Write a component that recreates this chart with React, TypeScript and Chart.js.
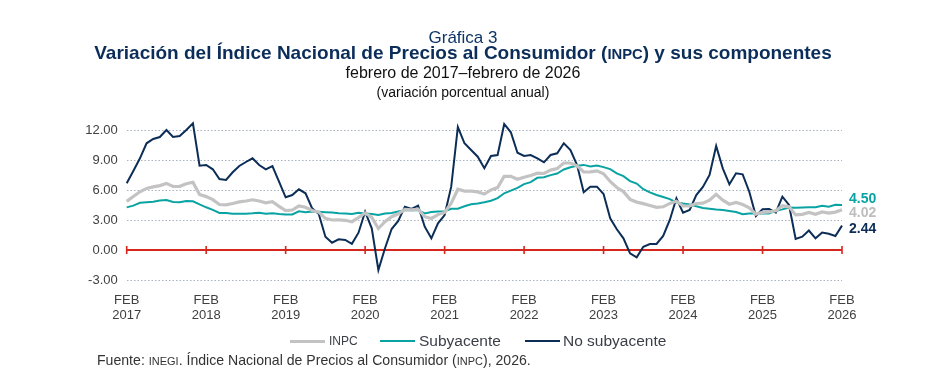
import React, { useEffect, useRef } from 'react';
import { Chart, registerables } from 'chart.js';

Chart.register(...registerables);

// Feb 2017 ... Feb 2026 (109 months)
const startYear = 2017;
const startMonth = 1; // 0 = Jan, 1 = Feb

const tickYears = ['2017', '2018', '2019', '2020', '2021', '2022', '2023', '2024', '2025', '2026'];
const tickMonthLabel = 'FEB';
const yTicks = [-3, 0, 3, 6, 9, 12];

const inpc = [
  4.86, 5.35, 5.82, 6.16, 6.31, 6.44, 6.66, 6.35, 6.37, 6.63, 6.77,
  5.55, 5.34, 5.04, 4.55, 4.51, 4.65, 4.81, 4.90, 5.02, 4.90, 4.72, 4.83,
  4.37, 3.94, 4.00, 4.41, 4.28, 3.95, 3.78, 3.16, 3.00, 3.02, 2.97, 2.83,
  3.24, 3.70, 3.25, 2.15, 2.84, 3.33, 3.62, 4.05, 4.01, 4.09, 3.33, 3.15,
  3.54, 3.76, 4.67, 6.08, 5.89, 5.88, 5.81, 5.59, 6.00, 6.24, 7.37, 7.36,
  7.07, 7.28, 7.45, 7.68, 7.65, 7.99, 8.15, 8.70, 8.70, 8.41, 7.80, 7.82,
  7.91, 7.62, 6.85, 6.25, 5.84, 5.06, 4.79, 4.64, 4.45, 4.26, 4.32, 4.66,
  4.88, 4.40, 4.42, 4.65, 4.69, 4.98, 5.57, 4.99, 4.58, 4.76, 4.55, 4.21,
  3.59, 3.77, 3.80, 3.93, 4.42, 4.32, 3.51, 3.57, 3.76, 3.57, 3.80, 3.69,
  3.79, 4.02,
];

const subyacente = [
  4.26, 4.44, 4.72, 4.78, 4.83, 4.94, 5.00, 4.80, 4.77, 4.90, 4.87,
  4.56, 4.27, 4.02, 3.71, 3.69, 3.62, 3.63, 3.63, 3.67, 3.73, 3.63, 3.68,
  3.60, 3.54, 3.55, 3.87, 3.77, 3.85, 3.82, 3.78, 3.75, 3.68, 3.65, 3.59,
  3.73, 3.66, 3.60, 3.50, 3.64, 3.71, 3.85, 3.97, 3.99, 3.98, 3.66, 3.80,
  3.84, 3.87, 4.12, 4.13, 4.37, 4.58, 4.66, 4.78, 4.92, 5.19, 5.67, 5.94,
  6.21, 6.59, 6.78, 7.22, 7.28, 7.49, 7.65, 8.05, 8.28, 8.42, 8.51, 8.35,
  8.45, 8.29, 8.09, 7.67, 7.39, 6.89, 6.64, 6.08, 5.76, 5.50, 5.30, 5.09,
  4.76, 4.64, 4.55, 4.37, 4.21, 4.13, 4.05, 4.00, 3.91, 3.80, 3.58, 3.65,
  3.66, 3.65, 3.64, 3.93, 4.06, 4.24, 4.23, 4.26, 4.28, 4.28, 4.43, 4.33,
  4.52, 4.50,
];

const noSubyacente = [
  6.67, 7.90, 9.17, 10.67, 11.10, 11.30, 12.00, 11.30, 11.40, 12.00, 12.67,
  8.43, 8.50, 8.07, 7.10, 7.00, 7.77, 8.40, 8.80, 9.17, 8.50, 8.07, 8.40,
  6.83, 5.27, 5.50, 6.07, 5.67, 4.17, 3.60, 1.33, 0.73, 1.07, 1.00, 0.62,
  1.73, 3.83, 2.17, -2.00, 0.17, 2.10, 2.90, 4.33, 4.10, 4.43, 2.33, 1.17,
  2.67, 3.50, 6.33, 12.30, 10.67, 10.00, 9.33, 8.17, 9.40, 9.50, 12.60, 11.77,
  9.73, 9.40, 9.50, 9.17, 8.77, 9.50, 9.67, 10.67, 10.00, 8.50, 5.77, 6.33,
  6.33, 5.60, 3.17, 2.07, 1.17, -0.33, -0.73, 0.33, 0.60, 0.60, 1.40, 3.00,
  5.17, 3.73, 4.00, 5.50, 6.30, 7.50, 10.40, 8.17, 6.57, 7.67, 7.57, 5.83,
  3.40, 4.07, 4.10, 3.73, 5.33, 4.50, 1.10, 1.33, 1.95, 1.17, 1.75, 1.63,
  1.40, 2.44,
];

const seriesNames = ['INPC', 'Subyacente', 'No subyacente'];
const seriesColors = ['#c3c3c3', '#0aa3a3', '#0b2d56'];
const endLabelColors = ['#bdbdbd', '#0aa3a3', '#0b2d56'];
const endLabelOffsets = [3, -6, 4];

const monthLabels = inpc.map((_, i) => {
  const m = startMonth + i;
  const y = startYear + Math.floor(m / 12);
  const mm = (m % 12) + 1;
  return `${y}-${mm < 10 ? '0' + mm : mm}`;
});

const FONT = "'Liberation Sans', Arial, sans-serif";

const overlayPlugin = {
  id: 'overlay',
  beforeDatasetsDraw(chart: any) {
    const { ctx, chartArea, scales } = chart;
    const y0 = scales.y.getPixelForValue(0);
    ctx.save();
    ctx.strokeStyle = '#d7261c';
    ctx.lineWidth = 2;
    ctx.beginPath();
    ctx.moveTo(chartArea.left, y0);
    ctx.lineTo(chartArea.right, y0);
    ctx.stroke();
    ctx.lineWidth = 1.6;
    for (let i = 0; i < monthLabels.length; i += 12) {
      const x = scales.x.getPixelForValue(i);
      ctx.beginPath();
      ctx.moveTo(x, y0 - 4);
      ctx.lineTo(x, y0 + 4);
      ctx.stroke();
    }
    ctx.restore();
  },
  afterDatasetsDraw(chart: any) {
    const { ctx } = chart;
    ctx.save();
    ctx.font = `bold 14px ${FONT}`;
    ctx.textAlign = 'left';
    ctx.textBaseline = 'middle';
    chart.data.datasets.forEach((ds: any, i: number) => {
      const meta = chart.getDatasetMeta(i);
      const pt = meta.data[meta.data.length - 1];
      const v = ds.data[ds.data.length - 1];
      ctx.fillStyle = endLabelColors[i];
      ctx.fillText(v.toFixed(2), pt.x + 7, pt.y + endLabelOffsets[i]);
    });
    ctx.restore();
  },
};

function ChartCanvas() {
  const ref = useRef<HTMLCanvasElement | null>(null);
  useEffect(() => {
    if (!ref.current) return;
    const chart = new Chart(ref.current, {
      type: 'line',
      data: {
        labels: monthLabels,
        datasets: [
          { label: seriesNames[0], data: inpc, borderColor: seriesColors[0], borderWidth: 3.2, pointRadius: 0, tension: 0, clip: false } as any,
          { label: seriesNames[1], data: subyacente, borderColor: seriesColors[1], borderWidth: 2, pointRadius: 0, tension: 0, clip: false } as any,
          { label: seriesNames[2], data: noSubyacente, borderColor: seriesColors[2], borderWidth: 2, pointRadius: 0, tension: 0, clip: false } as any,
        ],
      },
      options: {
        animation: false,
        responsive: false,
        devicePixelRatio: 1,
        layout: { padding: { left: 0, right: 84, top: 130, bottom: 55 } },
        plugins: { legend: { display: false }, tooltip: { enabled: false } },
        scales: {
          x: {
            type: 'category',
            offset: false,
            grid: { display: false },
            border: { display: false },
            afterFit: (s: any) => { s.height = 55; },
            ticks: {
              autoSkip: false,
              maxRotation: 0,
              minRotation: 0,
              padding: 4,
              color: '#404040',
              font: { family: FONT, size: 13, lineHeight: 1.22 },
              callback: (_v: any, idx: number) =>
                idx % 12 === 0 ? [tickMonthLabel, tickYears[idx / 12]] : null,
            },
          },
          y: {
            min: -3,
            max: 12,
            afterFit: (s: any) => { s.width = 126.7; },
            afterBuildTicks: (s: any) => { s.ticks = yTicks.map((v) => ({ value: v })); },
            grid: {
              drawTicks: false,
              lineWidth: 1,
              color: (c: any) => (c.tick && c.tick.value === 0 ? 'rgba(0,0,0,0)' : '#a9b2bf'),
            },
            border: { display: false, dash: [1.5, 2] },
            ticks: {
              padding: 9,
              color: '#404040',
              font: { family: FONT, size: 13 },
              callback: (v: any) => Number(v).toFixed(2),
            },
          },
        },
      },
      plugins: [overlayPlugin],
    } as any);
    return () => chart.destroy();
  }, []);
  return <canvas ref={ref} width={926} height={390} style={{ position: 'absolute', left: 0, top: 0, width: 926, height: 390 }} />;
}

const centerLine = (top: number, size: number, extra: React.CSSProperties, content: React.ReactNode) => (
  <div
    style={{
      position: 'absolute', left: 0, top, width: 926, textAlign: 'center',
      fontFamily: FONT, fontSize: size, lineHeight: `${size + 2}px`, whiteSpace: 'nowrap', ...extra,
    }}
  >
    {content}
  </div>
);

const sc = (t: string) => <span style={{ fontSize: '0.78em' }}>{t}</span>;

export default function App() {
  return (
    <div style={{ position: 'absolute', left: 0, top: 0, width: 926, height: 390, background: '#fff', overflow: 'hidden' }}>
      <ChartCanvas />
      {centerLine(28, 17, { color: '#0e3566' }, 'Gráfica 3')}
      {centerLine(42, 19, { color: '#0b2d5a', fontWeight: 'bold' }, <>Variación del Índice Nacional de Precios al Consumidor ({sc('INPC')}) y sus componentes</>)}
      {centerLine(64, 16, { color: '#111' }, 'febrero de 2017–febrero de 2026')}
      {centerLine(84, 14, { color: '#111' }, '(variación porcentual anual)')}
      <div style={{ position: 'absolute', left: 0, top: 332, width: 926, height: 18, fontFamily: FONT, color: '#3a3f47' }}>
        <div style={{ position: 'absolute', left: 290, top: 8, width: 35, height: 3, background: seriesColors[0] }} />
        <div style={{ position: 'absolute', left: 329, top: 2, fontSize: 12, lineHeight: '14px' }}>INPC</div>
        <div style={{ position: 'absolute', left: 380, top: 8, width: 35, height: 2, background: seriesColors[1] }} />
        <div style={{ position: 'absolute', left: 419, top: 0, fontSize: 15.5, lineHeight: '18px' }}>Subyacente</div>
        <div style={{ position: 'absolute', left: 525, top: 8, width: 35, height: 2, background: seriesColors[2] }} />
        <div style={{ position: 'absolute', left: 563, top: 0, fontSize: 15.5, lineHeight: '18px' }}>No subyacente</div>
      </div>
      <div style={{ position: 'absolute', left: 97, top: 352, fontFamily: FONT, fontSize: 14.1, lineHeight: '16px', color: '#333', whiteSpace: 'nowrap' }}>
        Fuente: {sc('INEGI')}. Índice Nacional de Precios al Consumidor ({sc('INPC')}), 2026.
      </div>
    </div>
  );
}
